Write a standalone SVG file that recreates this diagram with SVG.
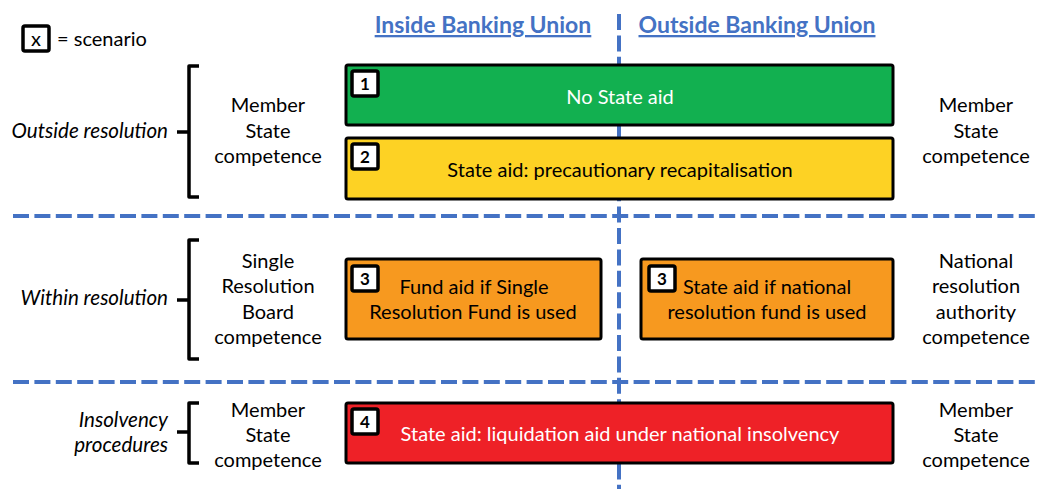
<svg xmlns="http://www.w3.org/2000/svg" width="1037" height="489" viewBox="0 0 1037 489">
<style>
text{font-family:Lato,"Liberation Sans",sans-serif;font-size:20px;fill:#000}
.c{text-anchor:middle}
.r{text-anchor:end}
.it{font-style:italic;font-size:20.6px}
.hd{font-weight:bold;font-size:23px;fill:#4472C4;text-decoration:underline}
.w{fill:#fff}
.box{stroke:#000;stroke-width:3}
.badge{fill:#fff;stroke:#000;stroke-width:3.5}
.num{font-weight:bold;font-size:17px;text-anchor:middle}
.dash{stroke:#4472C4;stroke-width:4;stroke-dasharray:16 5.4;fill:none}
.brace{stroke:#000;stroke-width:3.5;fill:none;stroke-linejoin:round}
</style>
<rect width="1037" height="489" fill="#fff"/>
<g id="connectors">
<line class="dash" x1="619" y1="14" x2="619" y2="489"/>
<line class="dash" x1="13" y1="216" x2="1037" y2="216"/>
<line class="dash" x1="13" y1="382" x2="1037" y2="382"/>
</g>
<g id="legend">
<rect x="23" y="26" width="26" height="25" rx="2" class="badge"/>
<text x="36" y="46" class="c">x</text>
<text x="57" y="46">= scenario</text>
</g>
<g id="headers">
<text x="483" y="33" class="hd c">Inside Banking Union</text>
<text x="757" y="33" class="hd c">Outside Banking Union</text>
</g>
<g id="row-outside">
<path class="brace" d="M199,66 H189 V197 H199 M189,132 H177"/>
<text x="168" y="138" class="r it">Outside resolution</text>
<text x="268" y="112" class="c">Member</text>
<text x="268" y="138" class="c">State</text>
<text x="268" y="163" class="c">competence</text>
<text x="976" y="112" class="c">Member</text>
<text x="976" y="138" class="c">State</text>
<text x="976" y="163" class="c">competence</text>
</g>
<g id="scenario1">
<rect x="346" y="65" width="547" height="60" rx="2" class="box" fill="#12B050"/>
<rect x="352" y="71" width="26" height="25" rx="2" class="badge"/>
<text x="365" y="90" class="num">1</text>
<text x="620" y="104" class="c w">No State aid</text>
</g>
<g id="scenario2">
<rect x="346" y="138" width="547" height="61" rx="2" class="box" fill="#FDD224"/>
<rect x="352" y="144" width="26" height="25" rx="2" class="badge"/>
<text x="365" y="163" class="num">2</text>
<text x="620" y="177" class="c">State aid: precautionary recapitalisation</text>
</g>
<g id="row-within">
<path class="brace" d="M199,240 H189 V359 H199 M189,300 H177"/>
<text x="168" y="305" class="r it">Within resolution</text>
<text x="268" y="268" class="c">Single</text>
<text x="268" y="293" class="c">Resolution</text>
<text x="268" y="319" class="c">Board</text>
<text x="268" y="344" class="c">competence</text>
<text x="976" y="268" class="c">National</text>
<text x="976" y="293" class="c">resolution</text>
<text x="976" y="319" class="c">authority</text>
<text x="976" y="344" class="c">competence</text>
</g>
<g id="scenario3-inside">
<rect x="346" y="259" width="255" height="80" rx="2" class="box" fill="#F7991F"/>
<rect x="352" y="266" width="26" height="25" rx="2" class="badge"/>
<text x="365" y="285" class="num">3</text>
<text x="474" y="294" class="c">Fund aid if Single</text>
<text x="473" y="319" class="c">Resolution Fund is used</text>
</g>
<g id="scenario3-outside">
<rect x="641" y="259" width="252" height="80" rx="2" class="box" fill="#F7991F"/>
<rect x="649" y="266" width="26" height="25" rx="2" class="badge"/>
<text x="662" y="285" class="num">3</text>
<text x="767" y="294" class="c">State aid if national</text>
<text x="767" y="319" class="c">resolution fund is used</text>
</g>
<g id="row-insolvency">
<path class="brace" d="M199,403 H189 V463 H199 M189,432 H177"/>
<text x="168" y="427" class="r it">Insolvency</text>
<text x="168" y="452" class="r it">procedures</text>
<text x="268" y="417" class="c">Member</text>
<text x="268" y="442" class="c">State</text>
<text x="268" y="467" class="c">competence</text>
<text x="976" y="417" class="c">Member</text>
<text x="976" y="442" class="c">State</text>
<text x="976" y="467" class="c">competence</text>
</g>
<g id="scenario4">
<rect x="346" y="403" width="547" height="60" rx="2" class="box" fill="#EE2127"/>
<rect x="352" y="409" width="26" height="25" rx="2" class="badge"/>
<text x="365" y="428" class="num">4</text>
<text x="620" y="441" class="c w">State aid: liquidation aid under national insolvency</text>
</g>
</svg>
